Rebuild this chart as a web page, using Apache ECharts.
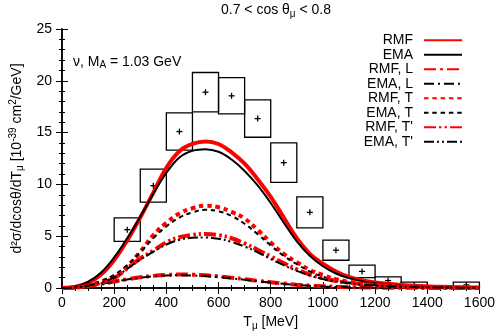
<!DOCTYPE html>
<html>
<head>
<meta charset="utf-8">
<script src="https://cdn.jsdelivr.net/npm/echarts/dist/echarts.min.js"></script>
<style>
  html, body { margin: 0; padding: 0; background: #fff; }
  #chart { width: 498px; height: 336px; }
</style>
</head>
<body>
<div id="chart"></div>
<script>
// muon kinetic energy samples [MeV]
var tMu = [0, 50, 100, 150, 200, 250, 300, 350, 400, 450, 500, 550, 600, 650, 700, 750, 800,
           850, 900, 950, 1000, 1050, 1100, 1150, 1200, 1250, 1300, 1350, 1400, 1450, 1500, 1550, 1600];

var rmfTotal = [0, 0.1, 0.5, 1.3, 2.7, 4.6, 6.8, 9.2, 11.6, 13.2, 13.9, 14.15, 13.9, 13.1, 12.0, 10.5, 8.8,
                6.8, 4.8, 3.3, 2.35, 1.6, 1.07, 0.75, 0.53, 0.4, 0.3, 0.22, 0.16, 0.11, 0.08, 0.05, 0.03];
var emaTotal = [0, 0.15, 0.6, 1.5, 2.95, 4.8, 6.9, 9.1, 11.1, 12.6, 13.25, 13.4, 13.15, 12.4, 11.3, 9.9, 8.2,
                6.3, 4.5, 3.1, 2.1, 1.4, 0.95, 0.65, 0.46, 0.34, 0.25, 0.18, 0.13, 0.09, 0.06, 0.04, 0.02];
var rmfL = [0, 0.05, 0.2, 0.4, 0.62, 0.85, 1.03, 1.17, 1.26, 1.3, 1.28, 1.22, 1.12, 1.0, 0.86, 0.7, 0.56,
            0.43, 0.32, 0.23, 0.17, 0.12, 0.08, 0.06, 0.04, 0.03, 0.02, 0.015, 0.01, 0.01, 0.005, 0.005, 0];
var emaL = [0, 0.05, 0.19, 0.38, 0.6, 0.82, 0.99, 1.12, 1.2, 1.23, 1.21, 1.15, 1.05, 0.93, 0.8, 0.66, 0.52,
            0.4, 0.3, 0.21, 0.15, 0.11, 0.07, 0.05, 0.035, 0.025, 0.02, 0.01, 0.01, 0.005, 0.005, 0, 0];
var rmfT = [0, 0.05, 0.25, 0.6, 1.15, 2.1, 3.5, 5.1, 6.3, 7.2, 7.7, 7.95, 7.8, 7.35, 6.7, 5.6, 4.4,
            3.3, 2.5, 1.75, 1.25, 0.85, 0.6, 0.42, 0.3, 0.22, 0.16, 0.12, 0.08, 0.06, 0.04, 0.03, 0.02];
var emaT = [0, 0.06, 0.3, 0.7, 1.25, 2.2, 3.45, 4.8, 5.95, 6.8, 7.3, 7.55, 7.4, 6.95, 6.2, 5.2, 4.1,
            3.1, 2.3, 1.6, 1.1, 0.75, 0.52, 0.37, 0.26, 0.19, 0.14, 0.1, 0.07, 0.05, 0.04, 0.03, 0.02];
var rmfTp = [0, 0.04, 0.2, 0.5, 0.95, 1.9, 2.85, 3.6, 4.4, 4.9, 5.12, 5.22, 5.1, 4.8, 4.3, 3.7, 3.05,
             2.4, 1.8, 1.3, 0.95, 0.68, 0.5, 0.37, 0.28, 0.21, 0.15, 0.11, 0.08, 0.06, 0.04, 0.03, 0.02];
var emaTp = [0, 0.05, 0.22, 0.55, 1.0, 1.85, 2.75, 3.5, 4.2, 4.65, 4.85, 4.88, 4.75, 4.45, 4.0, 3.45, 2.8,
             2.2, 1.65, 1.2, 0.87, 0.62, 0.45, 0.33, 0.25, 0.18, 0.13, 0.1, 0.07, 0.05, 0.04, 0.03, 0.02];

// measured bins: low edge, high edge, value, error
var binLo  = [200, 300, 400, 500, 600, 700, 800, 900, 1000, 1100, 1200, 1300, 1500];
var binHi  = [300, 400, 500, 600, 700, 800, 900, 1000, 1100, 1200, 1300, 1400, 1600];
var expVal = [5.63, 9.88, 15.1, 18.9, 18.55, 16.35, 12.1, 7.3, 3.65, 1.6, 0.72, 0.3, 0.3];
var expErr = [1.13, 1.6, 1.8, 1.9, 1.75, 1.8, 1.9, 1.5, 0.97, 0.6, 0.35, 0.26, 0.26];

var FONT = 'Liberation Sans';

function pairs(ys) {
    var out = [];
    for (var i = 0; i < tMu.length; i++) out.push([tMu[i], ys[i]]);
    return out;
}

var boxData = [];
for (var i = 0; i < binLo.length; i++) {
    boxData.push([binLo[i], binHi[i], expVal[i], expErr[i]]);
}

function curve(name, ys, color, width, dash) {
    return {
        name: name,
        type: 'line',
        data: pairs(ys),
        symbol: 'none',
        smooth: 0.4,
        lineStyle: { color: color, width: width, type: dash || 'solid', cap: 'butt' },
        itemStyle: { color: color },
        emphasis: { disabled: true },
        z: 3
    };
}

var chart = echarts.init(document.getElementById('chart'));

var option = {
    animation: false,
    textStyle: { fontFamily: FONT },
    title: {
        text: '0.7 < cos θ{s|μ} < 0.8',
        left: 271,
        textAlign: 'center',
        top: -3,
        textStyle: {
            fontFamily: FONT, fontSize: 14, fontWeight: 'normal', color: '#000',
            rich: { s: { fontFamily: FONT, fontSize: 10, padding: [7, 0, 0, 0], color: '#000' } }
        }
    },
    grid: { left: 62, right: 18, top: 29, bottom: 46 },
    legend: {
        orient: 'vertical',
        right: 35,
        top: 33,
        padding: 0,
        align: 'right',
        itemWidth: 38,
        itemHeight: 8,
        itemGap: 0,
        itemStyle: { opacity: 0 },
        textStyle: { fontFamily: FONT, fontSize: 14, color: '#000', lineHeight: 14.5, padding: [0, 6, 0, 0] },
        data: ['RMF', 'EMA', 'RMF, L', 'EMA, L', 'RMF, T', 'EMA, T', "RMF, T'", "EMA, T'"]
    },
    xAxis: [{
        type: 'value',
        min: 0, max: 1600, interval: 200,
        name: 'T{s|μ} [MeV]',
        nameLocation: 'middle',
        nameGap: 26,
        nameTextStyle: {
            fontFamily: FONT, fontSize: 14, color: '#000',
            rich: { s: { fontFamily: FONT, fontSize: 10, padding: [7, 0, 0, 0], color: '#000' } }
        },
        axisLine: { show: true, lineStyle: { color: '#000', width: 1.5 } },
        axisTick: { show: true, inside: true, length: 6, lineStyle: { color: '#000', width: 1 } },
        minorTick: { show: true, splitNumber: 4, length: 3, lineStyle: { color: '#000', width: 1 } },
        axisLabel: {
            fontFamily: FONT, fontSize: 14, color: '#000', margin: 8,
            formatter: function (v) { return String(v); }
        },
        splitLine: { show: false }
    }, {
        type: 'value', position: 'top',
        min: 0, max: 1600, interval: 200,
        axisLine: { show: true, lineStyle: { color: '#000', width: 1.5 } },
        axisTick: { show: true, inside: true, length: 6, lineStyle: { color: '#000', width: 1 } },
        minorTick: { show: true, splitNumber: 4, length: 3, lineStyle: { color: '#000', width: 1 } },
        axisLabel: { show: false },
        splitLine: { show: false }
    }],
    yAxis: [{
        type: 'value',
        min: 0, max: 25, interval: 5,
        name: 'd²σ/dcosθ/dT{s|μ} [10{p|-39} cm{p|2}/GeV]',
        nameLocation: 'middle',
        nameRotate: 90,
        nameGap: 30,
        nameTextStyle: {
            fontFamily: FONT, fontSize: 14, color: '#000',
            rich: {
                s: { fontFamily: FONT, fontSize: 10, padding: [7, 0, 0, 0], color: '#000' },
                p: { fontFamily: FONT, fontSize: 10, padding: [0, 0, 7, 0], color: '#000' }
            }
        },
        axisLine: { show: true, lineStyle: { color: '#000', width: 1.5 } },
        axisTick: { show: true, inside: true, length: 6, lineStyle: { color: '#000', width: 1 } },
        minorTick: { show: true, splitNumber: 5, length: 3, lineStyle: { color: '#000', width: 1 } },
        axisLabel: { fontFamily: FONT, fontSize: 14, color: '#000', margin: 10 },
        splitLine: { show: false }
    }, {
        type: 'value', position: 'right',
        min: 0, max: 25, interval: 5,
        axisLine: { show: true, lineStyle: { color: '#000', width: 1.5 } },
        axisTick: { show: true, inside: true, length: 6, lineStyle: { color: '#000', width: 1 } },
        minorTick: { show: true, splitNumber: 5, length: 3, lineStyle: { color: '#000', width: 1 } },
        axisLabel: { show: false },
        splitLine: { show: false }
    }],
    graphic: [{
        type: 'text',
        left: 73,
        top: 55,
        style: {
            text: '{a|ν, M}{s|A}{a| = 1.03 GeV}',
            rich: {
                a: { fontFamily: FONT, fontSize: 14, fill: '#000' },
                s: { fontFamily: FONT, fontSize: 10, padding: [7, 0, 0, 0], fill: '#000' }
            }
        }
    }],
    series: [{
        type: 'custom',
        data: boxData,
        z: 2,
        silent: true,
        encode: { x: [0, 1], y: 2 },
        renderItem: function (params, api) {
            var x0 = api.value(0), x1 = api.value(1), v = api.value(2), e = api.value(3);
            var a = api.coord([x0, v + e]);
            var b = api.coord([x1, v - e]);
            var c = api.coord([(x0 + x1) / 2, v]);
            var rect = echarts.graphic.clipRectByRect(
                { x: a[0], y: a[1], width: b[0] - a[0], height: b[1] - a[1] },
                { x: params.coordSys.x, y: params.coordSys.y, width: params.coordSys.width, height: params.coordSys.height + 0.5 }
            );
            return {
                type: 'group',
                children: [{
                    type: 'rect',
                    shape: rect,
                    style: { fill: 'none', stroke: '#000', lineWidth: 1.3 }
                }, {
                    type: 'line',
                    shape: { x1: c[0] - 3, y1: c[1], x2: c[0] + 3, y2: c[1] },
                    style: { stroke: '#000', lineWidth: 1.3 }
                }, {
                    type: 'line',
                    shape: { x1: c[0], y1: c[1] - 3, x2: c[0], y2: c[1] + 3 },
                    style: { stroke: '#000', lineWidth: 1.3 }
                }]
            };
        }
    },
        curve('RMF', rmfTotal, '#ff0000', 4),
        curve('EMA', emaTotal, '#000000', 2),
        curve('RMF, L', rmfL, '#ff0000', 4, [12, 4, 3, 4]),
        curve('EMA, L', emaL, '#000000', 2, [10, 4, 2, 4]),
        curve('RMF, T', rmfT, '#ff0000', 4, [4.5, 3.8]),
        curve('EMA, T', emaT, '#000000', 2, [4.5, 3.8]),
        curve("RMF, T'", rmfTp, '#ff0000', 4, [12, 3, 2.5, 3, 2.5, 3]),
        curve("EMA, T'", emaTp, '#000000', 2, [10, 3, 2, 3, 2, 3])
    ]
};

chart.setOption(option);
</script>
</body>
</html>
